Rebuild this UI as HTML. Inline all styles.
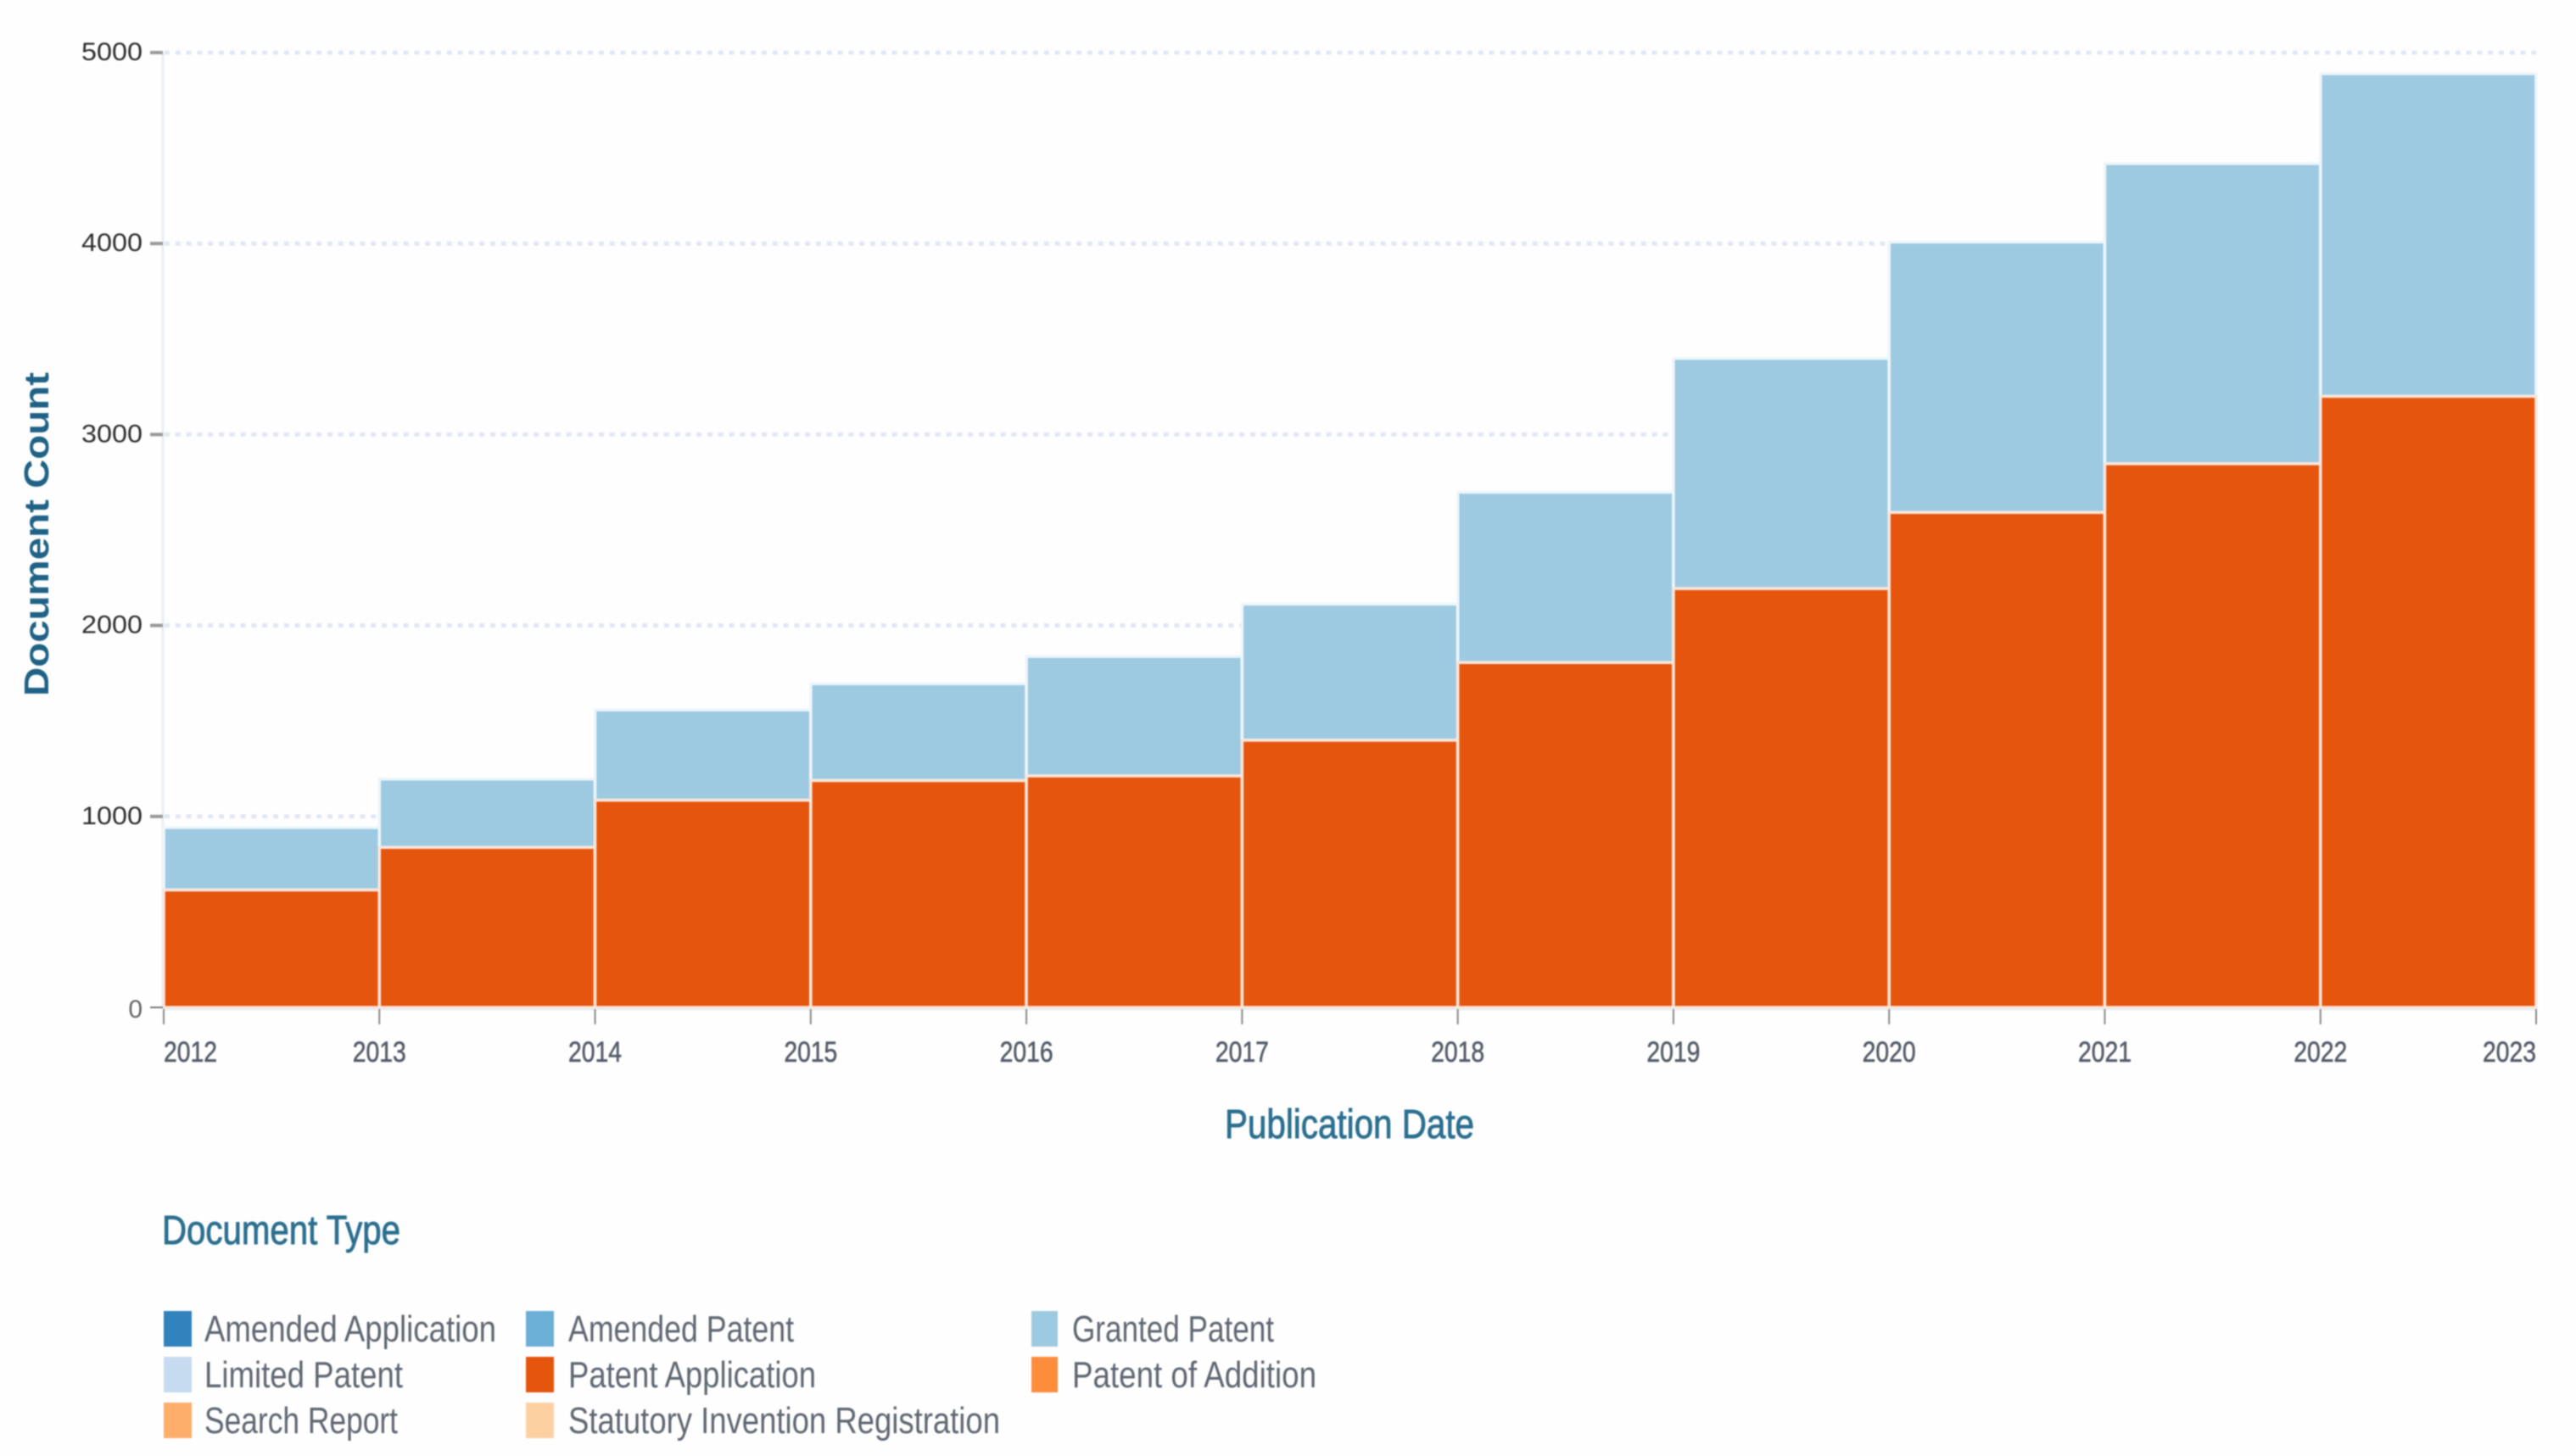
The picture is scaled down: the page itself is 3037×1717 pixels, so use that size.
<!DOCTYPE html>
<html lang="en">
<head>
<meta charset="utf-8">
<title>Document Count by Publication Date</title>
<style>
html,body{margin:0;padding:0;background:#fff;}
body{width:3037px;height:1717px;overflow:hidden;}
svg{display:block;filter:blur(0.8px);}
text{font-family:"Liberation Sans",sans-serif;}
.legend-label{font-size:44px;fill:#5f6772;}
.axis-title{fill:#2b6f8f;stroke:#2b6f8f;stroke-width:0.9px;font-size:48px;}
</style>
</head>
<body>
<svg id="chart" xmlns="http://www.w3.org/2000/svg" width="3037" height="1717" viewBox="0 0 3037 1717">
  <rect x="0" y="0" width="3037" height="1717" fill="#fefefe"/>
  <g id="grid"></g>
  <line x1="192" x2="192" y1="62" y2="1187" stroke="#e8eef7" stroke-width="3"/>
  <line x1="192" x2="2990" y1="1190" y2="1190" stroke="#e6f1f8" stroke-width="3"/>
  <g id="bars"></g>
  <g id="y-axis"></g>
  <g id="x-axis"></g>

  <text transform="translate(57,821) rotate(-90)" font-size="41" font-weight="bold" fill="#1f6285" textLength="382" lengthAdjust="spacingAndGlyphs">Document Count</text>
  <text class="axis-title" x="1444" y="1342" textLength="294" lengthAdjust="spacingAndGlyphs">Publication Date</text>

  <g>
    <text class="axis-title" x="191" y="1467" textLength="281" lengthAdjust="spacingAndGlyphs">Document Type</text>

    <g>
      <rect x="193" y="1546" width="33" height="42" fill="#3182bd"/>
      <text class="legend-label" x="241" y="1582" textLength="344" lengthAdjust="spacingAndGlyphs">Amended Application</text>
    </g>
    <g>
      <rect x="620" y="1546" width="33" height="42" fill="#6baed6"/>
      <text class="legend-label" x="670" y="1582" textLength="266" lengthAdjust="spacingAndGlyphs">Amended Patent</text>
    </g>
    <g>
      <rect x="1216" y="1546" width="31" height="42" fill="#9ecae1"/>
      <text class="legend-label" x="1264" y="1582" textLength="238" lengthAdjust="spacingAndGlyphs">Granted Patent</text>
    </g>

    <g>
      <rect x="193" y="1600" width="33" height="42" fill="#c6dbef"/>
      <text class="legend-label" x="241" y="1636" textLength="234" lengthAdjust="spacingAndGlyphs">Limited Patent</text>
    </g>
    <g>
      <rect x="620" y="1600" width="33" height="42" fill="#e6550d"/>
      <text class="legend-label" x="670" y="1636" textLength="292" lengthAdjust="spacingAndGlyphs">Patent Application</text>
    </g>
    <g>
      <rect x="1216" y="1600" width="31" height="42" fill="#fd8d3c"/>
      <text class="legend-label" x="1264" y="1636" textLength="288" lengthAdjust="spacingAndGlyphs">Patent of Addition</text>
    </g>

    <g>
      <rect x="193" y="1654" width="33" height="42" fill="#fdae6b"/>
      <text class="legend-label" x="241" y="1690" textLength="228" lengthAdjust="spacingAndGlyphs">Search Report</text>
    </g>
    <g>
      <rect x="620" y="1654" width="33" height="42" fill="#fdd0a2"/>
      <text class="legend-label" x="670" y="1690" textLength="509" lengthAdjust="spacingAndGlyphs">Statutory Invention Registration</text>
    </g>
  </g>
</svg>
<script>
const years = [2012, 2013, 2014, 2015, 2016, 2017, 2018, 2019, 2020, 2021, 2022];
const xTickLabels = ["2012", "2013", "2014", "2015", "2016", "2017", "2018", "2019", "2020", "2021", "2022", "2023"];
const patentApplication = [615, 838, 1085, 1188, 1212, 1399, 1806, 2193, 2592, 2847, 3200];
const grantedPatent = [327, 358, 473, 507, 626, 713, 892, 1206, 1416, 1572, 1690];
const yTickLabels = [0, 1000, 2000, 3000, 4000, 5000];

const SVGNS = "http://www.w3.org/2000/svg";
function xScale(year) { return 193 + (year - 2012) * (2990 - 193) / 11; }
function yScale(value) { return 1188 - value * (1188 - 62) / 5000; }

function make(tag, attrs, parent) {
  const el = document.createElementNS(SVGNS, tag);
  for (const k in attrs) el.setAttribute(k, attrs[k]);
  parent.appendChild(el);
  return el;
}

const gridGroup = document.getElementById("grid");
const yAxisGroup = document.getElementById("y-axis");
yTickLabels.forEach(function (v) {
  const y = yScale(v);
  if (v > 0) {
    const grid = make("line", {x1: 194, x2: 2990, y1: y, y2: y, stroke: "#e2e7f4", "stroke-width": 5, "stroke-dasharray": "6 6.8"}, gridGroup);
    
    
  }
  const tick = make("line", {x1: 177, x2: 192, y1: y, y2: y, stroke: v > 0 ? "#9a9a9a" : "#777", "stroke-width": v > 0 ? 4 : 2}, yAxisGroup);
  
  
  const label = make("text", {x: 168, y: v > 0 ? y + 9 : y + 12, "text-anchor": "end", "font-size": 30, fill: v > 0 ? "#2e2e2e" : "#666"}, yAxisGroup);
  if (v > 0) {
    label.setAttribute('textLength', '72');
    label.setAttribute('lengthAdjust', 'spacingAndGlyphs');
  }
  
  
  label.textContent = String(v);
});

const barsGroup = document.getElementById("bars");
years.forEach(function (year, i) {
  const x0 = xScale(year);
  const x1 = xScale(year + 1);
  const app = patentApplication[i];
  const total = app + grantedPatent[i];

  const grantedBar = make("rect", {x: x0, y: yScale(total), width: x1 - x0, height: yScale(app) - yScale(total), fill: "#9ecae1", stroke: "#eef6fb", "stroke-width": 3.5}, barsGroup);
  
  

  const appBar = make("rect", {x: x0, y: yScale(app), width: x1 - x0, height: yScale(0) - yScale(app), fill: "#e6550d", stroke: "#f9e6dc", "stroke-width": 3.5}, barsGroup);
  
  
});

const xAxisGroup = document.getElementById("x-axis");
xTickLabels.forEach(function (t, i) {
  const x = xScale(Number(t));
  const tick = make("line", {x1: x, x2: x, y1: 1190, y2: 1208, stroke: "#8a8a8a", "stroke-width": 2}, xAxisGroup);
  
  
  const anchor = i === 0 ? "start" : (i === xTickLabels.length - 1 ? "end" : "middle");
  const label = make("text", {x: x, y: 1252, "text-anchor": anchor, "font-size": 34, fill: "#555d69", stroke: "#555d69", "stroke-width": 0.6, textLength: 63, lengthAdjust: "spacingAndGlyphs"}, xAxisGroup);
  
  
  label.textContent = t;
});
</script>
</body>
</html>
